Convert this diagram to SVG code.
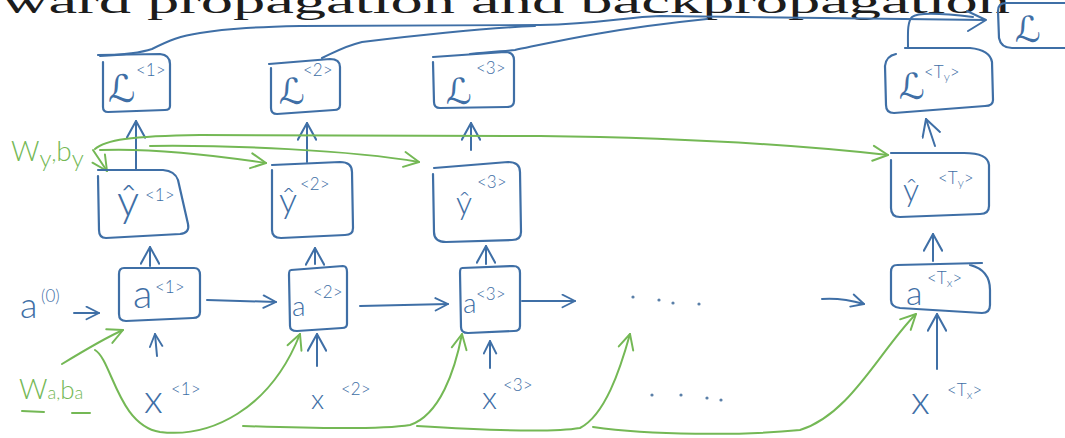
<svg xmlns="http://www.w3.org/2000/svg" width="1065" height="438" viewBox="0 0 1065 438">
<style>
.bx{fill:none;stroke:#3f6fa6;stroke-width:2.2;stroke-linecap:round;stroke-linejoin:round}
.bl{fill:none;stroke:#3f6fa6;stroke-width:2;stroke-linecap:round;stroke-linejoin:round}
.gl{fill:none;stroke:#74b855;stroke-width:2;stroke-linecap:round;stroke-linejoin:round}
.ab{marker-end:url(#hb)}
.abL{marker-end:url(#hbL)}
.ag{marker-end:url(#hg)}
.t{font-family:Lato,"Liberation Sans",sans-serif;font-weight:300;fill:#3f6fa6}
.sc{font-family:"DejaVu Sans",sans-serif;fill:#3f6fa6}
.sp{font-family:Lato,"Liberation Sans",sans-serif;font-weight:300;fill:#3f6fa6;font-size:17px}
.g{font-family:Lato,"Liberation Sans",sans-serif;font-weight:300;fill:#74b855}
.dot{fill:#5a7fa8}
</style>
<defs>
<marker id="hb" viewBox="0 0 12 12" refX="11" refY="6" markerWidth="15" markerHeight="15" markerUnits="userSpaceOnUse" orient="auto"><path d="M1,1 L11,6 L1,11" fill="none" stroke="#3f6fa6" stroke-width="1.5" stroke-linecap="round" stroke-linejoin="round"/></marker>
<marker id="hbL" viewBox="0 0 12 12" refX="11" refY="6" markerWidth="20" markerHeight="20" markerUnits="userSpaceOnUse" orient="auto"><path d="M1,0.5 L11,6 L1,11.5" fill="none" stroke="#3f6fa6" stroke-width="1.2" stroke-linecap="round" stroke-linejoin="round"/></marker>
<marker id="hg" viewBox="0 0 12 12" refX="11" refY="6" markerWidth="18" markerHeight="18" markerUnits="userSpaceOnUse" orient="auto"><path d="M1,1 L11,6 L1,11" fill="none" stroke="#74b855" stroke-width="1.3" stroke-linecap="round" stroke-linejoin="round"/></marker>
</defs>
<rect width="1065" height="438" fill="#ffffff"/>
<g id="title">
<text x="2" y="13" font-family="'Liberation Serif',serif" font-size="33" fill="#1c1c1c" textLength="1008" lengthAdjust="spacingAndGlyphs">ward propagation and backpropagation</text>
</g>
<g id="connectors">
<path class="bl" d="M100,56 C120,55 140,53 152,49 C170,40 180,36 200,33 C230,28 260,27 300,26 L540,25 C600,24 625,17 660,16 L985,20"/>
<path class="bl" d="M322,58 C335,52 345,46 362,42 C420,35 480,28 535,26"/>
<path class="bl" d="M470,54 C490,52 505,51 515,50 C545,44 600,30 707,19"/>
<path class="bl" d="M908,48 C908,35 907,22 912,17 C918,12 940,13 973,17"/>
<path class="bl" d="M967,11 L986,20 L968,31"/>
<path class="bl abL" d="M136,169 L136,121"/>
<path class="bl abL" d="M307,162 L307,123"/>
<path class="bl abL" d="M471,150 L471,123"/>
<path class="bl abL" d="M935,146 L926,119"/>
<path class="bl abL" d="M150,266 L150,247"/>
<path class="bl abL" d="M315,264 L315,248"/>
<path class="bl abL" d="M486,264 L486,246"/>
<path class="bl abL" d="M933,261 L933,234"/>
<path class="bl ab" d="M157,356 L155,334"/>
<path class="bl abL" d="M317,366 L317,334"/>
<path class="bl ab" d="M490,368 L490,341"/>
<path class="bl abL" d="M937,369 L937,314"/>
<path class="bl ab" d="M74,313 L99,313"/>
<path class="bl ab" d="M207,300 L276,302"/>
<path class="bl ab" d="M360,306 L448,304"/>
<path class="bl ab" d="M522,301 L575,301"/>
<path class="bl ab" d="M822,299 C835,298 850,300 864,304"/>
<path class="gl ag" d="M93,150 L107,171"/>
<path class="gl ag" d="M95,149 C105,140 130,136 200,135 L540,136 C700,138 800,145 888,155"/>
<path class="gl ag" d="M100,150 C150,148 220,156 266,163"/>
<path class="gl ag" d="M150,146 C230,145 350,150 419,162"/>
<path class="gl ag" d="M62,364 C85,350 105,338 123,330"/>
<path class="gl ag" d="M95,350 C112,360 118,425 160,432 C210,438 270,410 300,334"/>
<path class="gl ag" d="M243,426 C300,428 380,430 410,425 C440,415 455,370 462,334"/>
<path class="gl ag" d="M417,426 C480,430 550,433 580,428 C605,415 620,370 630,334"/>
<path class="gl ag" d="M593,427 C650,435 740,436 800,430 C850,415 880,350 916,314"/>
</g>
<g id="dots">
<circle class="dot" cx="633" cy="297" r="1.6"/><circle class="dot" cx="659" cy="300" r="1.6"/><circle class="dot" cx="673" cy="303" r="1.6"/><circle class="dot" cx="699" cy="304" r="1.6"/>
<circle class="dot" cx="652" cy="395" r="1.6"/><circle class="dot" cx="681" cy="395" r="1.6"/><circle class="dot" cx="707" cy="398" r="1.6"/><circle class="dot" cx="721" cy="400" r="1.6"/>
</g>
<g id="node-L1">
<path class="bx" d="M98,55 L160,54 Q170,55 170,64 L170,106 Q170,110 165,110 L108,112 Q103,112 103,107 L103,62"/>
<text class="sc" x="108" y="102" font-size="38">ℒ</text><text class="sp" x="136" y="76">&lt;1&gt;</text>
</g>
<g id="node-L2">
<path class="bx" d="M269,64 L330,59 Q340,59 340,67 L340,105 Q340,110 334,110 L277,114 Q271,114 271,108 L271,68"/>
<text class="sc" x="279" y="104" font-size="36">ℒ</text><text class="sp" x="303" y="76" font-size="16">&lt;2&gt;</text>
</g>
<g id="node-L3">
<path class="bx" d="M433,57 L505,52 Q514,52 514,60 L514,101 Q514,107 507,107 L440,108 Q434,108 434,102 L433,62"/>
<text class="sc" x="446" y="104" font-size="36">ℒ</text><text class="sp" x="476" y="74" font-size="16">&lt;3&gt;</text>
</g>
<g id="node-LTy">
<path class="bx" d="M905,48 L970,48 Q990,50 992,62 L993,100 Q993,106 985,106 L894,113 Q886,113 886,105 L885,66 Q886,56 896,54"/>
<text class="sc" x="899" y="99" font-size="36">ℒ</text><text class="sp" x="924" y="78">&lt;T<tspan font-size="12" dy="3">y</tspan><tspan dy="-3">&gt;</tspan></text>
</g>
<g id="node-L">
<path class="bx" d="M1070,3 L1006,3 Q998,3 998,11 L999,38 Q1001,48 1012,48 L1070,48"/>
<text class="sc" x="1015" y="42" font-size="36">ℒ</text>
</g>
<g id="node-yhat1">
<path class="bx" d="M98,170 L163,170 Q175,171 178,180 L188,224 Q190,233 180,234 L106,238 Q99,238 99,230 L98,176"/>
<text class="t" x="117" y="216" font-size="44">ŷ</text><text class="sp" x="145" y="201">&lt;1&gt;</text>
</g>
<g id="node-yhat2">
<path class="bx" d="M272,165 L340,162 Q352,162 352,172 L353,228 Q353,235 345,235 L281,238 Q272,238 272,230 L272,170"/>
<text class="t" x="279" y="213" font-size="36">ŷ</text><text class="sp" x="300" y="190">&lt;2&gt;</text>
</g>
<g id="node-yhat3">
<path class="bx" d="M434,168 L508,162 Q520,162 520,172 L521,232 Q521,240 512,240 L446,242 Q434,242 434,232 L433,174"/>
<text class="t" x="456" y="214" font-size="32">ŷ</text><text class="sp" x="477" y="188" font-size="16">&lt;3&gt;</text>
</g>
<g id="node-yhatTy">
<path class="bx" d="M891,153 L964,153 Q988,153 989,165 L989,206 Q989,214 980,214 L900,217 Q891,217 891,208 L891,160"/>
<text class="t" x="903" y="201" font-size="32">ŷ</text><text class="sp" x="938" y="184">&lt;T<tspan font-size="12" dy="3">y</tspan><tspan dy="-3">&gt;</tspan></text>
</g>
<g id="node-a0">
<text class="t" x="20" y="318" font-size="36">a</text><text class="sp" x="41" y="302" font-size="16">(0)</text>
</g>
<g id="node-a1">
<path class="bx" d="M124,268 L194,268 Q200,268 200,275 L200,312 Q200,318 193,318 L126,321 Q119,321 119,314 L119,274 Q119,268 124,268 Z"/>
<text class="t" x="133" y="308" font-size="40">a</text><text class="sp" x="155" y="293">&lt;1&gt;</text>
</g>
<g id="node-a2">
<path class="bx" d="M291,270 L343,266 Q347,266 347,272 L347,324 Q347,328 342,328 L297,331 Q290,331 290,326 L289,275 Q289,270 291,270 Z"/>
<text class="t" x="292" y="316" font-size="28">a</text><text class="sp" x="313" y="298" font-size="16">&lt;2&gt;</text>
</g>
<g id="node-a3">
<path class="bx" d="M462,268 L513,266 Q520,266 520,273 L520,326 Q520,331 514,331 L468,333 Q461,333 461,327 L460,273 Q460,268 462,268 Z"/>
<text class="t" x="463" y="313" font-size="28">a</text><text class="sp" x="476" y="300" font-size="16">&lt;3&gt;</text>
</g>
<g id="node-aTx">
<path class="bx" d="M897,265 L982,263 M970,265 Q990,270 990,290 L990,305 Q990,313 982,313 L900,308 Q891,307 891,300 L891,272 Q891,265 897,265"/>
<text class="t" x="906" y="305" font-size="34">a</text><text class="sp" x="927" y="284">&lt;T<tspan font-size="12" dy="3">x</tspan><tspan dy="-3">&gt;</tspan></text>
</g>
<g id="node-x1"><text class="t" x="144" y="413" font-size="40">x</text><text class="sp" x="171" y="395">&lt;1&gt;</text></g>
<g id="node-x2"><text class="t" x="311" y="409" font-size="28">x</text><text class="sp" x="341" y="395">&lt;2&gt;</text></g>
<g id="node-x3"><text class="t" x="482" y="409" font-size="32">x</text><text class="sp" x="503" y="391" font-size="16">&lt;3&gt;</text></g>
<g id="node-xTx"><text class="t" x="911" y="414" font-size="40">x</text><text class="sp" x="947" y="396" font-size="18">&lt;T<tspan font-size="12" dy="3">x</tspan><tspan dy="-3">&gt;</tspan></text></g>
<g id="label-Wy">
<text class="g" x="11" y="161" font-size="28">W<tspan font-size="24" dy="6">y</tspan><tspan font-size="22" dy="-6">,</tspan><tspan font-size="28">b</tspan><tspan font-size="24" dy="6">y</tspan></text>
</g>
<g id="label-Wa">
<text class="g" x="19" y="399" font-size="28">W<tspan font-size="18">a</tspan><tspan font-size="18">,</tspan><tspan font-size="26">b</tspan><tspan font-size="18">a</tspan></text>
<path class="gl" d="M22,411 L44,412 M72,413 L90,413"/>
</g>
</svg>
